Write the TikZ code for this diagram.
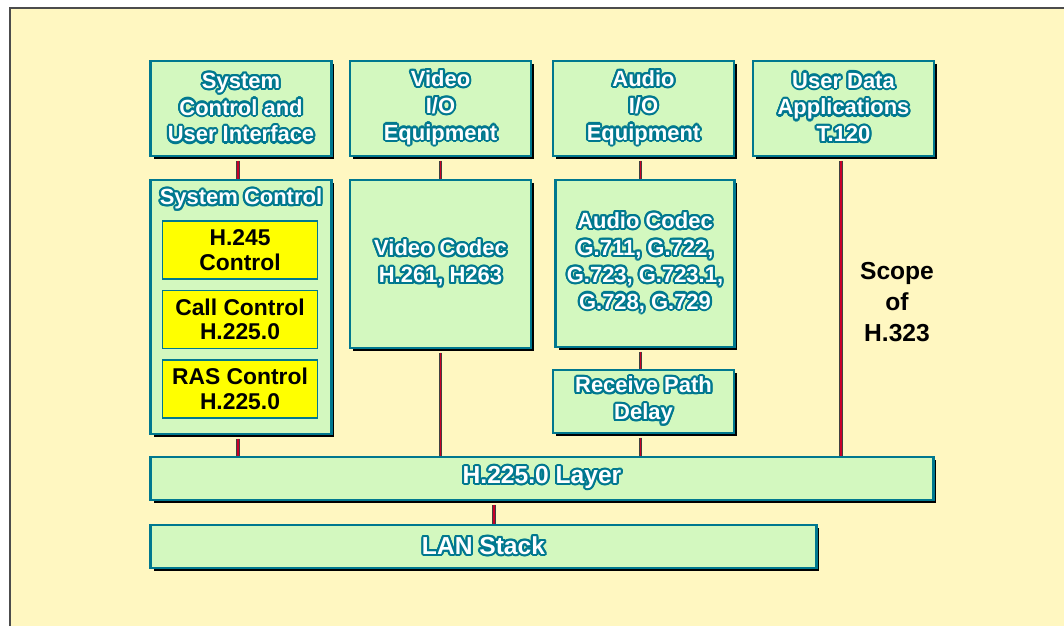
\documentclass[tikz,border=0pt]{standalone}
\usepackage{fontspec}
\setmainfont{Liberation Sans}
\usepackage[copies]{contour}
\contourlength{1.2pt}
\contournumber{16}
\usetikzlibrary{positioning,shadows,calc}
\definecolor{paper}{HTML}{FFF7C1}
\definecolor{boxfill}{HTML}{D3F8BF}
\definecolor{boxedge}{HTML}{00788F}
\definecolor{ctlfill}{HTML}{FFFF00}
\definecolor{wirered}{HTML}{C8002A}
\newcommand{\hl}[1]{\contour{boxedge}{#1}}

\begin{document}
\begin{tikzpicture}[
    x=0.02cm,y=-0.02cm,
    font=\bfseries\fontsize{12.5}{15.3}\selectfont,
    block/.style={draw=boxedge,fill=boxfill,line width=1.3pt,
      minimum width=3.62cm,minimum height=1.9cm,align=center,
      inner sep=2pt,text=white,
      drop shadow={shadow xshift=0.06cm,shadow yshift=-0.06cm,
        fill=black,opacity=1}},
    ctlbox/.style={draw=boxedge,fill=ctlfill,line width=1.1pt,
      minimum width=3.1cm,minimum height=1.16cm,align=center,
      inner sep=2pt,text=black,font=\bfseries\fontsize{13}{14}\selectfont},
    layer/.style={block,minimum height=0.86cm,
      font=\bfseries\fontsize{14}{16}\selectfont},
    scopetext/.style={align=center,text=black,
      font=\bfseries\fontsize{14}{17.6}\selectfont},
    link/.style={draw=black!75,double=wirered,double distance=1.1pt,
      line width=0.35pt,shorten <=0.07cm}
]
\useasboundingbox (0,0) rectangle (1064,626);
\fill[paper] (10,8) rectangle (1064,626);
\draw[black!70,line width=1.2pt] (10,626) -- (10,8) -- (1064,8);

% top row
\node[block] (sysui) at (241,108.5)
  {\hl{System}\\\hl{Control and}\\\hl{User Interface}};
\node[block] (videoio) at (440.5,108.5)
  {\hl{Video}\\\hl{I/O}\\\hl{Equipment}};
\node[block] (audioio) at (643.5,108.5)
  {\hl{Audio}\\\hl{I/O}\\\hl{Equipment}};
\node[block] (userdata) at (843.5,108.5)
  {\hl{User Data}\\\hl{Applications}\\\hl{T.120}};

% system control stack
\node[block,minimum height=5.08cm] (sysctl) at (241,307) {};
\node[text=white] (sysctltitle) at (241,200) {\hl{System Control}};
\node[ctlbox] (h245) at (240,250) {H.245\\Control};
\node[ctlbox] (callctl) at (240,319.5) {Call Control\\H.225.0};
\node[ctlbox] (rasctl) at (240,389) {RAS Control\\H.225.0};

% codecs
\node[block,minimum height=3.36cm] (videocodec) at (440.5,264)
  {\hl{Video Codec}\\\hl{H.261, H263}};
\node[block,minimum width=3.58cm,minimum height=3.34cm] (audiocodec) at (645,263.5)
  {\hl{Audio Codec}\\\hl{G.711, G.722,}\\\hl{G.723, G.723.1,}\\\hl{G.728, G.729}};
\node[block,minimum height=1.26cm] (rxdelay) at (643.5,401.5)
  {\hl{Receive Path}\\\hl{Delay}};

% layers
\node[layer,minimum width=15.66cm] (h225) at (542,478.5) {\hl{H.225.0 Layer}};
\node[layer,minimum width=13.32cm] (lan) at (483.5,546.5) {\hl{LAN Stack}};

\node[scopetext] (scope) at (897,302) {Scope\\of\\H.323};

% connections
\draw[link] ([xshift=-0.06cm]sysui.south) -- ([xshift=-0.06cm]sysui.south |- sysctl.north);
\draw[link] ([xshift=-0.06cm]sysctl.south) -- ([xshift=-0.06cm]sysctl.south |- h225.north);
\draw[link] (videoio.south) -- (videoio.south |- videocodec.north);
\draw[link] (videocodec.south) -- (videocodec.south |- h225.north);
\draw[link] ([xshift=-0.06cm]audioio.south) -- ([xshift=-0.06cm]audioio.south |- audiocodec.north);
\draw[link] ([xshift=-0.06cm]audiocodec.south -| audioio.south) -- ([xshift=-0.06cm]audioio.south |- rxdelay.north);
\draw[link] ([xshift=-0.06cm]rxdelay.south) -- ([xshift=-0.06cm]rxdelay.south |- h225.north);
\draw[link] ([xshift=-0.05cm]userdata.south) -- ([xshift=-0.05cm]userdata.south |- h225.north);
\coordinate (lantap) at (494,500);
\draw[link] (h225.south -| lantap) -- (lan.north -| lantap);
\end{tikzpicture}
\end{document}
